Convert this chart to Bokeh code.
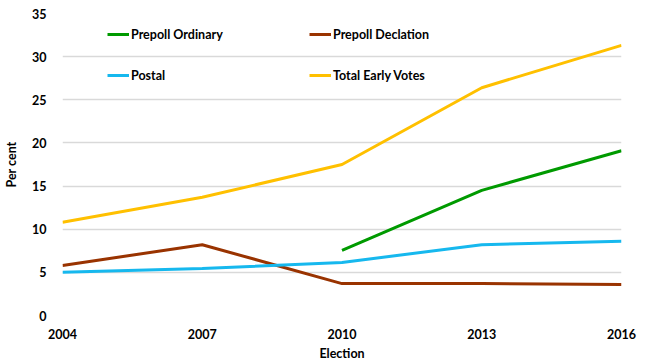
from bokeh.plotting import figure
from bokeh.models import Legend, LegendItem, FixedTicker, Range1d
from bokeh.embed import file_html
from bokeh.resources import INLINE

years = [2004, 2007, 2010, 2013, 2016]
ordinary_years = [2010, 2013, 2016]
prepoll_ordinary = [7.55, 14.5, 19.1]
prepoll_declaration = [5.8, 8.2, 3.7, 3.7, 3.6]
postal = [5.0, 5.45, 6.15, 8.2, 8.6]
total_early = [10.8, 13.7, 17.5, 26.4, 31.3]
y_ticks = [0, 5, 10, 15, 20, 25, 30, 35]

FONT = "Lato"

p = figure(width=649, height=363, output_backend="svg", toolbar_location=None,
           x_range=Range1d(2004, 2016), y_range=Range1d(0, 35),
           min_border_left=62, min_border_right=28, min_border_top=13, min_border_bottom=48)
p.outline_line_color = None
p.background_fill_color = "white"

r_ord = p.line(ordinary_years, prepoll_ordinary, line_color="#009a00", line_width=3)
r_dec = p.line(years, prepoll_declaration, line_color="#993300", line_width=3)
r_pos = p.line(years, postal, line_color="#16b8ee", line_width=3)
r_tot = p.line(years, total_early, line_color="#ffc000", line_width=3)

p.xaxis.ticker = FixedTicker(ticks=years)
p.yaxis.ticker = FixedTicker(ticks=y_ticks)
for ax in (p.xaxis[0], p.yaxis[0]):
    ax.axis_line_color = None
    ax.major_tick_line_color = None
    ax.minor_tick_line_color = None
    ax.major_label_text_font = FONT
    ax.major_label_text_font_style = "bold"
    ax.major_label_text_font_size = "12.5px"
    ax.major_label_text_color = "#000000"
    ax.axis_label_text_font = FONT
    ax.axis_label_text_font_style = "bold"
    ax.axis_label_text_font_size = "12.5px"
    ax.axis_label_text_color = "#000000"
p.xaxis.axis_label = "Election"
p.yaxis.axis_label = "Per cent"
p.xaxis.major_label_standoff = 7
p.xaxis.axis_label_standoff = 4
p.yaxis.major_label_standoff = 10
p.yaxis.axis_label_standoff = 10

p.xgrid.grid_line_color = None
p.ygrid.grid_line_color = "#d9d9d9"
p.ygrid.grid_line_width = 1.5

legend = Legend(items=[
    LegendItem(label="Prepoll Ordinary", renderers=[r_ord]),
    LegendItem(label="Prepoll Declation", renderers=[r_dec]),
    LegendItem(label="Postal", renderers=[r_pos]),
    LegendItem(label="Total Early Votes", renderers=[r_tot]),
], orientation="horizontal", ncols=2, location=(45, 230))
legend.margin = 0
legend.padding = 0
legend.spacing = 21
legend.glyph_width = 22
legend.glyph_height = 20
legend.label_height = 20
legend.label_width = 157
legend.label_standoff = 2
legend.label_text_font = FONT
legend.label_text_font_style = "bold"
legend.label_text_font_size = "12.5px"
legend.label_text_color = "#000000"
legend.border_line_color = None
legend.background_fill_alpha = 0
p.add_layout(legend, "center")

open("out.html", "w").write(file_html(p, INLINE))
